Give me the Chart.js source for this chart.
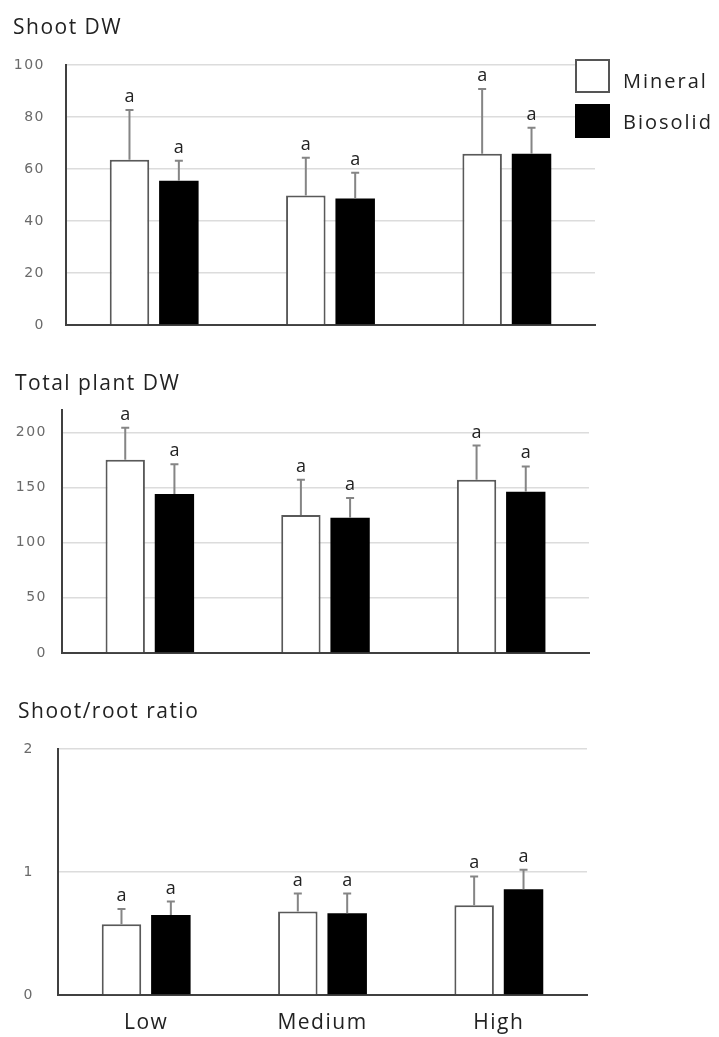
<!DOCTYPE html>
<html>
<head>
<meta charset="utf-8">
<script src="https://cdn.jsdelivr.net/npm/chart.js@4.4.1/dist/chart.umd.min.js"></script>
<style>
    body { margin: 0; background: #fff; width: 719px; height: 1037px; position: relative; overflow: hidden; }
    .panel { position: absolute; left: 0; width: 719px; }
    .legend { position: absolute; left: 575px; font-family: "Open Sans", sans-serif; font-size: 20px; color: #222; }
    .legend div { position: absolute; white-space: nowrap; }
    .legend .txt { left: 48px; letter-spacing: 2px; }
    .swatch { width: 31px; height: 30px; border: 2px solid #555; }
</style>
</head>
<body>
<div class="panel" style="top:0;height:340px"><canvas id="shoot"></canvas></div>
<div class="panel" style="top:340px;height:330px"><canvas id="total"></canvas></div>
<div class="panel" style="top:670px;height:367px"><canvas id="ratio"></canvas></div>
<div class="legend" style="top:59px">
    <div class="swatch" style="left:0;top:0;background:#fff"></div>
    <div class="txt" style="top:8px">Mineral</div>
    <div class="swatch" style="left:0;top:45px;background:#000;border-color:#000"></div>
    <div class="txt" style="top:49px">Biosolid</div>
</div>
<script>
const categories = ['Low', 'Medium', 'High'];
const seriesNames = ['Mineral', 'Biosolid'];

const shootMineral = [63.6, 49.8, 65.9];
const shootMineralErr = [19.2, 14.6, 24.9];
const shootBiosolid = [55.5, 48.7, 65.9];
const shootBiosolidErr = [7.7, 9.9, 10.0];

const totalMineral = [175, 125, 157];
const totalMineralErr = [29, 32, 31];
const totalBiosolid = [144, 122.5, 146];
const totalBiosolidErr = [27, 18, 23];

const ratioMineral = [0.575, 0.68, 0.73];
const ratioMineralErr = [0.125, 0.145, 0.235];
const ratioBiosolid = [0.65, 0.665, 0.86];
const ratioBiosolidErr = [0.11, 0.16, 0.16];

const sigLetters = ['a', 'a', 'a'];

Chart.defaults.animation = false;
Chart.defaults.responsive = true;
Chart.defaults.maintainAspectRatio = false;

// the original figure has widely spaced text
const spacing = {
    id: 'spacing',
    beforeDraw(chart) {
        chart.ctx.letterSpacing = '1.5px';
    }
};

// draws the upper error bars and the letters above them
const errorBars = {
    id: 'errorBars',
    afterDatasetsDraw(chart) {
        const ctx = chart.ctx;
        const yScale = chart.scales.y;
        chart.data.datasets.forEach((ds, i) => {
            const meta = chart.getDatasetMeta(i);
            meta.data.forEach((bar, j) => {
                const yTop = yScale.getPixelForValue(ds.data[j] + ds.errors[j]);
                ctx.save();
                ctx.letterSpacing = '0px';
                ctx.strokeStyle = '#858585';
                ctx.lineWidth = 2;
                ctx.beginPath();
                ctx.moveTo(bar.x, bar.y);
                ctx.lineTo(bar.x, yTop);
                ctx.moveTo(bar.x - 4, yTop);
                ctx.lineTo(bar.x + 4, yTop);
                ctx.stroke();
                ctx.fillStyle = '#222';
                ctx.font = '18px "Open Sans"';
                ctx.textAlign = 'center';
                ctx.textBaseline = 'alphabetic';
                ctx.fillText(ds.letters[j], bar.x, yTop - 8);
                ctx.restore();
            });
        });
    }
};

function makeChart(id, title, mineral, mineralErr, biosolid, biosolidErr, opts) {
    return new Chart(document.getElementById(id), {
        type: 'bar',
        data: {
            labels: categories,
            datasets: [
                {
                    label: seriesNames[0],
                    data: mineral,
                    errors: mineralErr,
                    letters: sigLetters,
                    backgroundColor: '#fff',
                    borderColor: '#595959',
                    borderWidth: 2,
                },
                {
                    label: seriesNames[1],
                    data: biosolid,
                    errors: biosolidErr,
                    letters: sigLetters,
                    backgroundColor: '#000',
                    borderColor: '#000',
                    borderWidth: 0,
                }
            ]
        },
        options: {
            categoryPercentage: 0.56,
            barPercentage: 0.8,
            layout: { padding: { left: opts.left, right: opts.right, top: 0, bottom: 0 } },
            plugins: {
                legend: { display: false },
                tooltip: { enabled: false },
                title: {
                    display: true,
                    text: title,
                    align: 'start',
                    color: '#222',
                    font: { family: 'Open Sans', size: 21, weight: 'normal', lineHeight: 1.2 },
                    padding: { top: opts.titleTop, bottom: opts.titleBottom },
                }
            },
            scales: {
                x: {
                    grid: { display: false, drawTicks: false },
                    border: { display: true, color: '#404040', width: 2 },
                    ticks: {
                        display: opts.showX,
                        color: '#222',
                        padding: 15,
                        font: { family: 'Open Sans', size: 21 },
                    },
                    afterFit: (scale) => { scale.height = opts.xHeight; },
                },
                y: {
                    min: 0,
                    max: opts.max,
                    grid: { color: '#dcdcdc', lineWidth: 1.5, drawTicks: false },
                    border: { display: true, color: '#404040', width: 2 },
                    ticks: {
                        stepSize: opts.step,
                        color: '#6a6a6a',
                        padding: opts.tickPad,
                        font: { family: 'DejaVu Sans', size: 14 },
                    },
                    afterBuildTicks: (scale) => {
                        scale.ticks = scale.ticks.filter((t) => t.value <= opts.lastTick);
                    },
                    afterFit: (scale) => {
                        scale.width = opts.yWidth - opts.left;
                        scale.paddingTop = 8;
                        scale.paddingBottom = 8;
                    },
                }
            }
        },
        plugins: [spacing, errorBars]
    });
}

makeChart('shoot', 'Shoot DW', shootMineral, shootMineralErr, shootBiosolid, shootBiosolidErr,
    { max: 100, step: 20, lastTick: 100, left: 13, right: 124, yWidth: 66, tickPad: 21,
      titleTop: 15, titleBottom: 25, xHeight: 15, showX: false });

makeChart('total', 'Total plant DW', totalMineral, totalMineralErr, totalBiosolid, totalBiosolidErr,
    { max: 220, step: 50, lastTick: 200, left: 15, right: 130, yWidth: 62, tickPad: 15,
      titleTop: 31, titleBottom: 14, xHeight: 17, showX: false });

makeChart('ratio', 'Shoot/root ratio', ratioMineral, ratioMineralErr, ratioBiosolid, ratioBiosolidErr,
    { max: 2, step: 1, lastTick: 2, left: 18, right: 132, yWidth: 58, tickPad: 24,
      titleTop: 29, titleBottom: 25, xHeight: 42, showX: true });
</script>
</body>
</html>
